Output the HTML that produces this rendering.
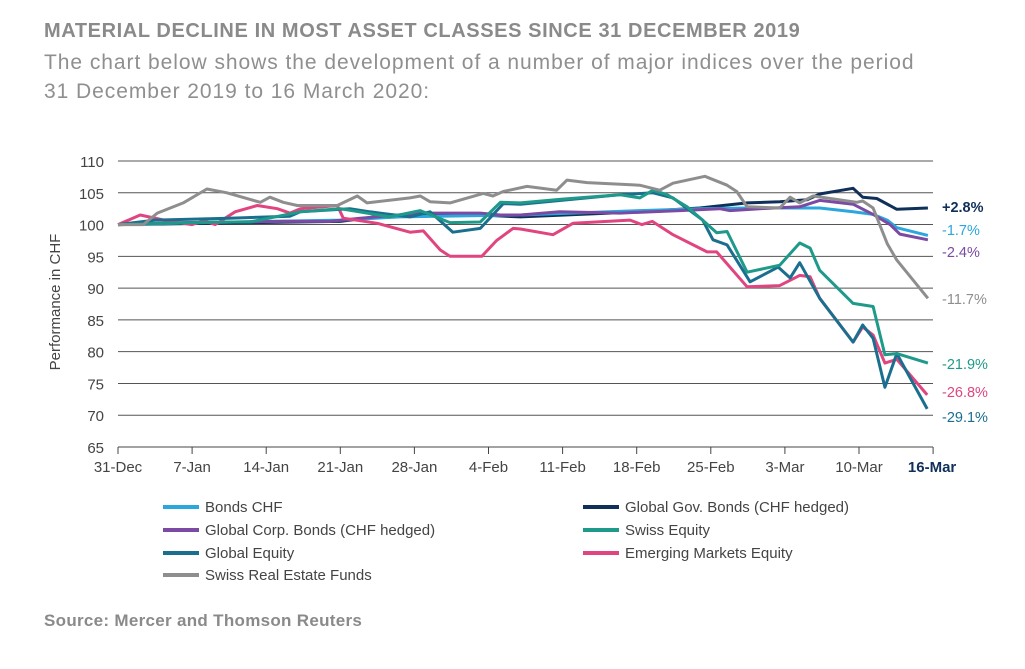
<!DOCTYPE html>
<html><head><meta charset="utf-8"><style>
body{margin:0;background:#fff;width:1025px;height:669px;overflow:hidden;font-family:"Liberation Sans",sans-serif;}
.t{position:absolute;left:44px;top:20px;font-size:20px;font-weight:bold;color:#8a8a8a;letter-spacing:0.6px}
.s{position:absolute;left:44px;top:48px;font-size:21px;color:#8f8f8f;line-height:29px;letter-spacing:0.95px}
.src{position:absolute;left:44px;top:611px;font-size:17px;font-weight:bold;color:#8a8a8a;letter-spacing:0.3px}
</style></head><body>
<div class="t">MATERIAL DECLINE IN MOST ASSET CLASSES SINCE 31 DECEMBER 2019</div>
<div class="s">The chart below shows the development of a number of major indices over the period<br>31 December 2019 to 16 March 2020:</div>
<svg id="c" width="1025" height="669" style="position:absolute;left:0;top:0"></svg>
<div class="src">Source: Mercer and Thomson Reuters</div>
<script>
const tickLabels=["31-Dec","7-Jan","14-Jan","21-Jan","28-Jan","4-Feb","11-Feb","18-Feb","25-Feb","3-Mar","10-Mar","16-Mar"];
const yTicks=[65,70,75,80,85,90,95,100,105,110];
const names=["Bonds CHF","Global Gov. Bonds (CHF hedged)","Global Corp. Bonds (CHF hedged)","Swiss Equity","Global Equity","Emerging Markets Equity","Swiss Real Estate Funds"];
const endLabels=["-1.7%","+2.8%","-2.4%","-21.9%","-29.1%","-26.8%","-11.7%"];
const bondsX=[0,1.11,3.0,3.81,5.43,7.04,7.85,8.49,9.07,9.47,9.92,10.19,10.38,10.51,10.93];
const bondsY=[100,100.3,100.7,101.2,101.5,102.2,102.5,102.6,102.6,102.6,102,101.6,100.7,99.5,98.3];
const govX=[0,3.0,3.54,4.89,5.43,7.04,7.85,8.49,8.93,9.3,9.47,9.92,10.05,10.24,10.51,10.93];
const govY=[100,100.5,101.3,101.5,101.2,102,102.6,103.4,103.6,103.9,104.8,105.7,104.3,104.1,102.4,102.6];
const corpX=[0,0.84,2.19,2.86,3.27,4.08,4.89,5.16,5.43,5.96,6.77,7.58,8.12,8.26,8.66,9.2,9.47,9.92,10.19,10.42,10.55,10.93];
const corpY=[100,100.3,100.5,100.5,101,101.8,101.8,101.5,101.5,102,101.8,102.2,102.5,102.2,102.5,102.8,103.8,103.2,101.6,100,98.5,97.6];
const swissX=[0,1.38,1.78,2.46,3.0,3.67,4.08,4.48,4.89,5.16,5.43,6.0,6.77,7.04,7.22,7.41,7.68,7.89,8.08,8.22,8.49,8.93,9.2,9.34,9.47,9.92,10.19,10.35,10.51,10.93];
const swissY=[100,100.4,100.4,102,102.5,101.2,102.2,100.3,100.4,103.5,103.4,104,104.7,104.2,105.4,104.7,102.8,100.7,98.7,98.9,92.5,93.6,97.1,96.3,92.8,87.6,87.1,79.5,79.7,78.2];
const globX=[0,0.5,1.5,2.32,2.46,3.13,3.4,3.94,4.21,4.52,4.89,5.2,5.43,6.77,7.22,7.49,7.89,8.03,8.22,8.53,8.91,9.07,9.2,9.47,9.92,10.05,10.19,10.35,10.51,10.92];
const globY=[100,100.7,101,101.3,102,102.5,102,101.2,102,98.8,99.4,103.3,103.2,104.7,105,104.2,100.7,97.6,96.8,91,93.3,91.6,94,88.4,81.5,84.2,82.1,74.4,79.7,71];
const emX=[0,0.3,0.7,1.0,1.17,1.31,1.58,1.88,2.15,2.32,2.46,2.96,3.04,3.5,3.94,4.12,4.35,4.48,4.91,5.11,5.33,5.43,5.87,6.14,6.91,7.07,7.21,7.49,7.95,8.08,8.49,8.93,9.2,9.34,9.47,9.92,10.05,10.19,10.35,10.51,10.92];
const emY=[100,101.5,100.5,100,100.6,100,102,103,102.5,101.8,102.5,103,101,100.2,98.8,99,96,95,95,97.5,99.4,99.3,98.4,100.2,100.7,100,100.5,98.4,95.7,95.7,90.2,90.4,92,91.8,88.4,81.5,83.9,82.6,78.2,78.8,73.2];
const reX=[0,0.34,0.53,0.88,1.2,1.47,1.92,2.05,2.23,2.42,2.96,3.23,3.36,3.94,4.08,4.21,4.48,4.93,5.06,5.2,5.52,5.92,6.06,6.33,7.04,7.31,7.49,7.92,8.22,8.35,8.49,8.93,9.07,9.2,9.38,9.97,10.05,10.19,10.38,10.51,10.93];
const reY=[100,100,101.8,103.4,105.6,105,103.5,104.3,103.5,103,103,104.5,103.4,104.2,104.5,103.6,103.4,104.9,104.5,105.2,106,105.4,107,106.6,106.2,105.4,106.5,107.6,106.2,105.2,102.8,102.6,104.3,103.4,104.5,103.5,103.7,102.6,97,94.4,88.4];
const colors=["#2aa7dc","#10305a","#7b4aa3","#1f9a8a","#1a6f8e","#e0457f","#8e8e8e"];
const seriesX=[bondsX,govX,corpX,swissX,globX,emX,reX];
const seriesY=[bondsY,govY,corpY,swissY,globY,emY,reY];
const endLabelY=[230,207,252,364,417,392,299];
const svg=document.getElementById('c');const NS='http://www.w3.org/2000/svg';
const X0=118,XW=74.1,Y0=447,YT=161;
const xs=w=>X0+w*XW;const ys=v=>Y0-(v-65)*(Y0-YT)/45;
function mk(t,a,txt){const e=document.createElementNS(NS,t);for(const k in a)e.setAttribute(k,a[k]);if(txt!==undefined)e.textContent=txt;svg.appendChild(e);return e;}
yTicks.forEach(v=>{const g=mk('line',{x1:X0,x2:933,y1:ys(v),y2:ys(v),stroke:v===65?'#444':'#555','stroke-width':1});

const t=mk('text',{x:104,y:ys(v)+6,'text-anchor':'end','font-size':15,fill:'#444'},v);
});
tickLabels.forEach((l,i)=>{const tk=mk('line',{x1:xs(i),x2:xs(i),y1:Y0,y2:Y0+7,stroke:'#444'});

const last=i===tickLabels.length-1;
const t=mk('text',{x:xs(i)+(last?-1:0),y:472,'text-anchor':'middle','font-size':15,fill:last?'#10305a':'#444','font-weight':last?'bold':'normal'},l);
});
const yl=mk('text',{x:0,y:0,transform:'translate(60,302) rotate(-90)','text-anchor':'middle','font-size':15,fill:'#444'},'Performance in CHF');

const order=[1,0,2,5,4,3,6];
order.forEach(s=>{const pts=seriesX[s].map((w,i)=>xs(w).toFixed(1)+','+ys(seriesY[s][i]).toFixed(1)).join(' ');
const p=mk('polyline',{points:pts,fill:'none',stroke:colors[s],'stroke-width':3,'stroke-linejoin':'round'});

const t=mk('text',{x:942,y:endLabelY[s]+5,'font-size':14.5,fill:colors[s],'font-weight':s===1?'bold':'normal'},endLabels[s]);
});
const legPos=[[163,507],[583,507],[163,530],[583,530],[163,553],[583,553],[163,575]];
names.forEach((n,s)=>{const [lx,ly]=legPos[s];
const l=mk('line',{x1:lx,x2:lx+36,y1:ly,y2:ly,stroke:colors[s],'stroke-width':4});

const t=mk('text',{x:lx+42,y:ly+5,'font-size':15,fill:'#444'},n);
});
</script>
</body></html>
